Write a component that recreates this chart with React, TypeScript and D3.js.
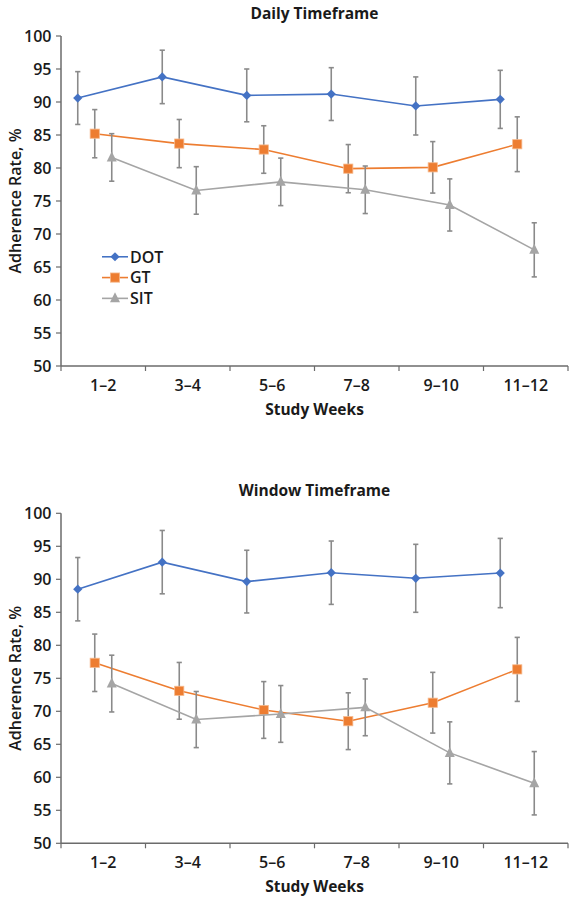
import React from "react";
import * as d3 from "d3";

const categories = ["1–2", "3–4", "5–6", "7–8", "9–10", "11–12"];
const seriesNames = ["DOT", "GT", "SIT"];
const yTicks = [50, 55, 60, 65, 70, 75, 80, 85, 90, 95, 100];

// Daily timeframe
const dailyDOT = [90.6, 93.8, 91.0, 91.2, 89.4, 90.4];
const dailyDOTErr = [4.0, 4.05, 4.0, 4.0, 4.4, 4.4];
const dailyGT = [85.2, 83.7, 82.8, 79.9, 80.1, 83.6];
const dailyGTErr = [3.65, 3.65, 3.6, 3.65, 3.9, 4.15];
const dailySIT = [81.6, 76.6, 77.9, 76.7, 74.4, 67.6];
const dailySITErr = [3.6, 3.6, 3.6, 3.6, 3.95, 4.1];

// Window timeframe
const windowDOT = [88.5, 92.6, 89.65, 91.0, 90.15, 90.95];
const windowDOTErr = [4.8, 4.8, 4.75, 4.8, 5.15, 5.25];
const windowGT = [77.35, 73.1, 70.2, 68.5, 71.3, 76.35];
const windowGTErr = [4.35, 4.3, 4.3, 4.3, 4.6, 4.85];
const windowSIT = [74.2, 68.75, 69.6, 70.6, 63.7, 59.1];
const windowSITErr = [4.3, 4.25, 4.3, 4.3, 4.7, 4.8];

const COLORS: Record<string, string> = { DOT: "#4472C4", GT: "#ED7D31", SIT: "#A5A5A5" };
const ERR_COLOR = "#8a8a8a";
const AXIS_COLOR = "#6b6b6b";
const FONT = "'Open Sans', sans-serif";
const TEXT = "#1a1a1a";

const X0 = 61;
const X1 = 568;

function Marker({ name, x, y }: { name: string; x: number; y: number }) {
  const c = COLORS[name];
  if (name === "DOT") {
    const s = 4.6;
    return <path d={`M${x},${y - s}L${x + s},${y}L${x},${y + s}L${x - s},${y}Z`} fill={c} />;
  }
  if (name === "GT") {
    const s = 4.6;
    return <rect x={x - s} y={y - s} width={2 * s} height={2 * s} fill={c} stroke="#f6b98c" strokeWidth={0.8} />;
  }
  const s = 5;
  return <path d={`M${x},${y - s - 1}L${x + s},${y + s - 1}L${x - s},${y + s - 1}Z`} fill={c} />;
}

function Panel({
  title,
  top,
  series,
  showLegend,
}: {
  title: string;
  top: number;
  series: { name: string; values: number[]; err: number[] }[];
  showLegend: boolean;
}) {
  const yTop = top;
  const yBottom = top + 330;
  const y = d3.scaleLinear().domain([50, 100]).range([yBottom, yTop]);
  const x = d3.scaleBand<string>().domain(categories).range([X0, X1]).padding(0);
  const inner = d3
    .scaleBand<string>()
    .domain([...seriesNames, "_"])
    .range([-34, 34]);
  const bw = x.bandwidth();
  const cx = (name: string, i: number) => (x(categories[i]) as number) + bw / 2 + (inner(name) as number) + inner.bandwidth() / 2;
  const boundaries = d3.range(categories.length + 1).map((i) => X0 + i * bw);
  const midX = (X0 + X1) / 2;

  return (
    <g>
      <text x={midX} y={top - 17.5} textAnchor="middle" fontFamily={FONT} fontWeight={700} fontSize={15.5} fill={TEXT}>
        {title}
      </text>
      {/* axes */}
      <line x1={X0} x2={X0} y1={yTop} y2={yBottom} stroke={AXIS_COLOR} strokeWidth={1.5} />
      <line x1={X0} x2={X1} y1={yBottom} y2={yBottom} stroke={AXIS_COLOR} strokeWidth={1.5} />
      {yTicks.map((t) => (
        <g key={t}>
          <line x1={X0 - 5} x2={X0} y1={y(t)} y2={y(t)} stroke={AXIS_COLOR} strokeWidth={1.2} />
          <text x={X0 - 9.5} y={y(t)} dy="0.36em" textAnchor="end" fontFamily={FONT} fontWeight={600} fontSize={16} fill={TEXT}>
            {t}
          </text>
        </g>
      ))}
      {boundaries.map((bx, i) => (
        <line key={i} x1={bx} x2={bx} y1={yBottom} y2={yBottom + 5} stroke={AXIS_COLOR} strokeWidth={1.2} />
      ))}
      {categories.map((c) => (
        <text key={c} x={(x(c) as number) + bw / 2} y={yBottom + 24.5} textAnchor="middle" fontFamily={FONT} fontWeight={600} fontSize={16} fill={TEXT}>
          {c}
        </text>
      ))}
      <text x={midX} y={yBottom + 49} textAnchor="middle" fontFamily={FONT} fontWeight={700} fontSize={15.5} fill={TEXT}>
        Study Weeks
      </text>
      <text
        transform={`translate(${20.5},${(yTop + yBottom) / 2}) rotate(-90)`}
        textAnchor="middle"
        fontFamily={FONT}
        fontWeight={600}
        fontSize={16}
        fill={TEXT}
      >
        Adherence Rate, %
      </text>
      {/* series */}
      {series.map((s) => {
        const l = d3
          .line<number>()
          .x((_, i) => cx(s.name, i))
          .y((v) => y(v));
        return (
          <g key={s.name}>
            <path d={l(s.values) || ""} fill="none" stroke={COLORS[s.name]} strokeWidth={1.6} />
            {s.values.map((v, i) => {
              const px = cx(s.name, i);
              const hi = y(v + s.err[i]);
              const lo = y(v - s.err[i]);
              return (
                <g key={i} stroke={ERR_COLOR} strokeWidth={1.6}>
                  <line x1={px} x2={px} y1={hi} y2={lo} />
                  <line x1={px - 2.6} x2={px + 2.6} y1={hi} y2={hi} />
                  <line x1={px - 2.6} x2={px + 2.6} y1={lo} y2={lo} />
                </g>
              );
            })}
            {s.values.map((v, i) => (
              <Marker key={i} name={s.name} x={cx(s.name, i)} y={y(v)} />
            ))}
          </g>
        );
      })}
      {showLegend &&
        seriesNames.map((n, i) => {
          const ly = y(66.55) + i * 20.8;
          return (
            <g key={n}>
              <line x1={102} x2={128} y1={ly} y2={ly} stroke={COLORS[n]} strokeWidth={1.6} />
              <Marker name={n} x={115} y={ly} />
              <text x={130} y={ly} dy="0.36em" fontFamily={FONT} fontWeight={600} fontSize={16} fill={TEXT}>
                {n}
              </text>
            </g>
          );
        })}
    </g>
  );
}

export default function App() {
  return (
    <div style={{ position: "absolute", left: 0, top: 0 }}>
      <svg width={575} height={900} viewBox="0 0 575 900" style={{ display: "block", background: "#fff" }}>
        <Panel
          title="Daily Timeframe"
          top={36}
          showLegend={true}
          series={[
            { name: "DOT", values: dailyDOT, err: dailyDOTErr },
            { name: "GT", values: dailyGT, err: dailyGTErr },
            { name: "SIT", values: dailySIT, err: dailySITErr },
          ]}
        />
        <Panel
          title="Window Timeframe"
          top={513.3}
          showLegend={false}
          series={[
            { name: "DOT", values: windowDOT, err: windowDOTErr },
            { name: "GT", values: windowGT, err: windowGTErr },
            { name: "SIT", values: windowSIT, err: windowSITErr },
          ]}
        />
      </svg>
    </div>
  );
}
